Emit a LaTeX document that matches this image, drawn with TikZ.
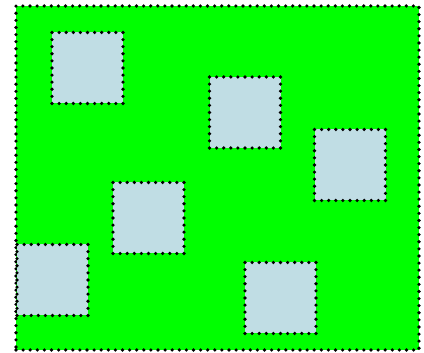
\documentclass[tikz,border=0pt]{standalone}
\definecolor{fieldgreen}{RGB}{0,255,0}
\definecolor{patchblue}{RGB}{192,221,228}
\tikzset{
  dotline/.style={draw=black, line width=3.6pt, line cap=round, dash pattern=on 0pt off 7.1pt},
  patch/.style={rectangle, dotline, fill=patchblue, minimum width=71pt, minimum height=71pt, inner sep=0pt, outer sep=0pt},
  field/.style={rectangle, dotline, fill=fieldgreen, inner sep=0pt, outer sep=0pt}
}
\begin{document}
\begin{tikzpicture}[x=1pt,y=1pt]
\useasboundingbox (0,0) rectangle (424,353);
\node[field, minimum width=403pt, minimum height=344pt] (field) at (217.5,175) {};
\node[patch] (a) at (87.5,285) {};
\node[patch] (b) at (245,240.5) {};
\node[patch] (c) at (148.5,135) {};
\node[patch] (d) at (52.5,73) {};
\node[patch] (e) at (280.5,55) {};
\node[patch] (f) at (350,188) {};
\end{tikzpicture}
\end{document}
